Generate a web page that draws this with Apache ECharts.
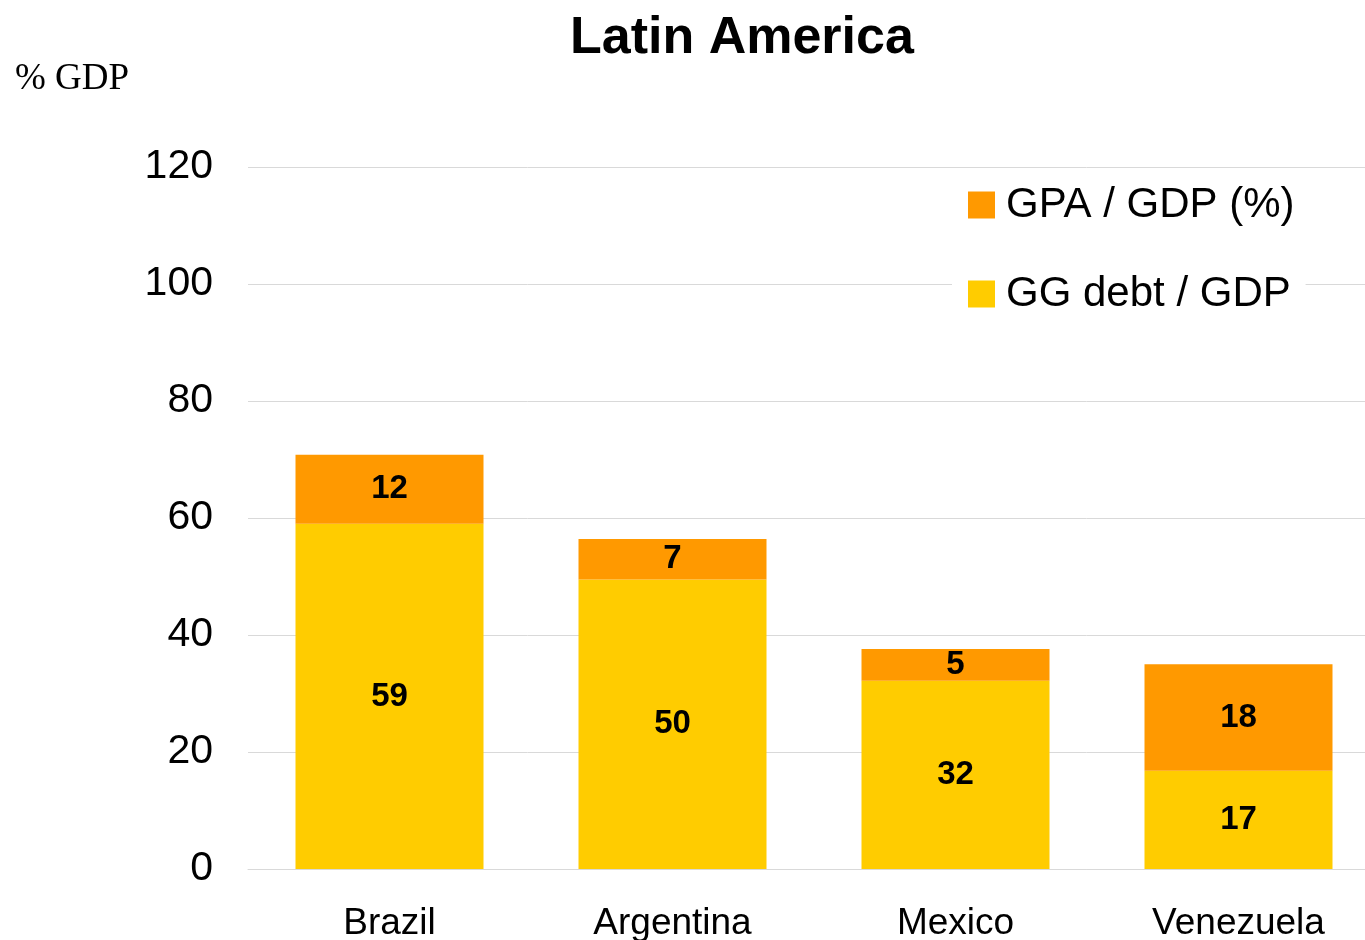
<!DOCTYPE html>
<html>
<head>
<meta charset="utf-8">
<title>Latin America</title>
<script src="https://cdn.jsdelivr.net/npm/echarts@6/dist/echarts.min.js"></script>
<style>
	html,body{margin:0;padding:0;background:#fff;}
	#chart{width:1365px;height:940px;}
</style>
</head>
<body>
<div id="chart"></div>
<script>
	// data
	var categories = ['Brazil', 'Argentina', 'Mexico', 'Venezuela'];
	var ggDebt = [59, 49.5, 32.2, 16.8];
	var gpa = [11.8, 6.9, 5.4, 18.2];
	var yTicks = [0, 120, 20];

	var sans = "'Liberation Sans', Arial, sans-serif";
	var labelStyle = {
		show: true,
		position: 'inside',
		color: '#000',
		fontFamily: sans,
		fontWeight: 'bold',
		fontSize: 33,
		padding: [9, 0, 0, 0],
		formatter: function (p) { return Math.round(p.value); }
	};

	var chart = echarts.init(document.getElementById('chart'));
	var option = {
		animation: false,
		backgroundColor: '#fff',
		title: {
			text: 'Latin America',
			left: 565,
			top: 8,
			textStyle: {fontFamily: sans, fontWeight: 'bold', fontSize: 52, color: '#000'}
		},
		graphic: [{
			type: 'text',
			left: 15,
			top: 61,
			style: {text: '% GDP', fontFamily: "'Liberation Serif', 'Times New Roman', serif", fontSize: 37, fill: '#000'}
		}],
		legend: {
			orient: 'vertical',
			left: 952,
			top: 170,
			padding: [14, 11, 12, 16],
			backgroundColor: '#fff',
			itemWidth: 27,
			itemHeight: 27,
			itemGap: 47,
			icon: 'rect',
			data: ['GPA / GDP (%)', 'GG debt / GDP'],
			textStyle: {fontFamily: sans, fontSize: 42, lineHeight: 40, color: '#000', padding: [0, 0, 0, 6]}
		},
		grid: {left: 248, width: 1132, top: 167, height: 702, containLabel: false, outerBoundsMode: 'none'},
		xAxis: {
			type: 'category',
			data: categories,
			axisTick: {show: false},
			axisLine: {show: true, lineStyle: {color: '#d9d9d9', width: 1}},
			axisLabel: {margin: 36, fontFamily: sans, fontSize: 37, color: '#000'}
		},
		yAxis: {
			type: 'value',
			min: yTicks[0],
			max: yTicks[1],
			interval: yTicks[2],
			axisTick: {show: false},
			axisLine: {show: false},
			axisLabel: {margin: 35, fontFamily: sans, fontSize: 41, color: '#000', padding: [11, 0, 0, 0]},
			splitLine: {show: true, lineStyle: {color: '#d9d9d9', width: 1}}
		},
		series: [
			{
				name: 'GG debt / GDP',
				type: 'bar',
				stack: 'total',
				barWidth: 188,
				itemStyle: {color: '#FFCC00'},
				label: labelStyle,
				data: ggDebt
			},
			{
				name: 'GPA / GDP (%)',
				type: 'bar',
				stack: 'total',
				barWidth: 188,
				itemStyle: {color: '#FF9900'},
				label: labelStyle,
				data: gpa
			}
		]
	};
	chart.setOption(option);
</script>
</body>
</html>
